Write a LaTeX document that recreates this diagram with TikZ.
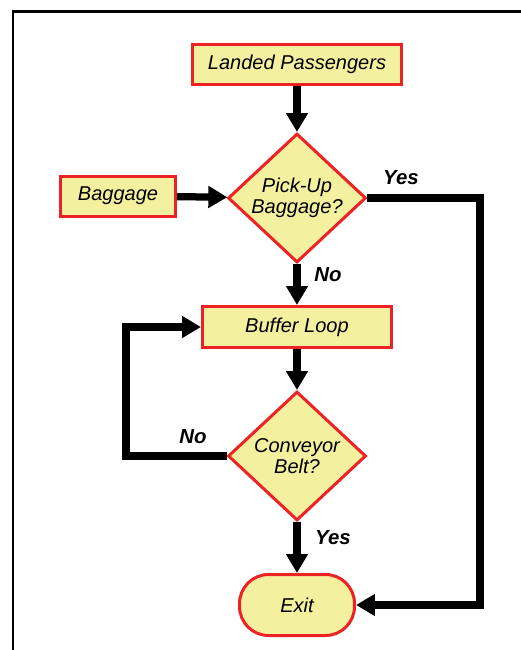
\documentclass[tikz,border=0pt]{standalone}
\usepackage{fontspec}
\setmainfont{Liberation Sans}
\usetikzlibrary{shapes.geometric,arrows.meta,positioning}
\definecolor{boxfill}{RGB}{243,241,159}
\definecolor{boxline}{RGB}{236,34,36}

\begin{document}
\begin{tikzpicture}[x=0.02cm,y=-0.02cm,
	box/.style={draw=boxline,fill=boxfill,line width=0.06cm,inner sep=0pt,font=\fontsize{11.4}{12.3}\selectfont\itshape},
	decision/.style={box,diamond,aspect=1.07,minimum width=2.76cm,minimum height=2.58cm,align=center},
	flow/.style={line width=0.145cm,-{Triangle[length=0.38cm,width=0.42cm]}},
	lbl/.style={font=\fontsize{11.6}{13}\selectfont\bfseries\itshape}]
	\useasboundingbox (0,0) rectangle (521,650);
	% open frame, top and left side only
	\draw[line width=0.06cm] (13,650)--(13,11)--(521,11);
	% boxes
	\node[box,minimum width=4.18cm,minimum height=0.8cm] (landed) at (297,64) {Landed Passengers};
	\node[decision] (pickup) at (297,198) {Pick-Up\\Baggage?};
	\node[box,minimum width=2.3cm,minimum height=0.8cm] (baggage) at (118,196) {Baggage};
	\node[box,minimum width=3.78cm,minimum height=0.82cm] (buffer) at (297,327) {Buffer Loop};
	\node[decision] (conveyor) at (297,456) {Conveyor\\Belt?};
	\node[box,rounded corners=0.58cm,minimum width=2.3cm,minimum height=1.22cm] (exit) at (297,605) {Exit};
	% turning points
	\coordinate (yesturn) at (480,198);
	\coordinate (noturn) at (126,456);
	% arrows
	\draw[flow] (landed)--(pickup);
	\draw[flow] (baggage)--(pickup);
	\draw[flow] (pickup)--(buffer);
	\draw[flow] (buffer)--(conveyor);
	\draw[flow] (conveyor)--(exit);
	\draw[flow] (pickup.east)--(yesturn)|-(exit.east);
	\draw[flow] (conveyor.west)--(noturn)|-(buffer.west);
	% answers
	\node[lbl] (yes1) at (401,178) {Yes};
	\node[lbl] (no1) at (328,275) {No};
	\node[lbl] (no2) at (193,437) {No};
	\node[lbl] (yes2) at (333,538) {Yes};
\end{tikzpicture}
\end{document}
